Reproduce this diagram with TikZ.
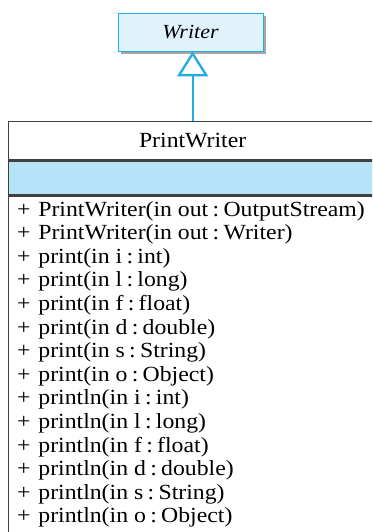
\documentclass[tikz,border=0pt]{standalone}
\usepackage{fontspec}
\setmainfont{Liberation Serif}[FakeStretch=1.10]
\usepackage{tikz}
\usetikzlibrary{arrows.meta,positioning,shadows}
\usepackage{xcolor}
\definecolor{umlcyan}{HTML}{1FAEE4}
\definecolor{umlpale}{HTML}{E0F3FB}
\definecolor{umlattr}{HTML}{B5E3F7}
\newcommand{\umlfont}{\fontsize{21.6}{23.6}\selectfont}
\newcommand{\ofT}{\hspace{0.2em}:\hspace{0.2em}}

\begin{document}
\begin{tikzpicture}[x=1pt, y=1pt,
  txt/.style={font=\umlfont, inner sep=0pt},
  cls/.style={draw=black!75, line width=1.3pt, minimum width=368pt, anchor=north west},
  abs/.style={draw=umlcyan, fill=umlpale, line width=0.9pt, minimum width=145pt, minimum height=38pt,
    drop shadow={shadow xshift=3pt, shadow yshift=-3pt, fill=black!35, opacity=1}}]
\useasboundingbox (0,0) rectangle (372,-532);
\clip (0,0) rectangle (372,-532);
% abstract parent class
\node[abs, inner sep=0pt, font=\fontsize{20}{22}\selectfont] (writer) at (190.5,-32) {\textit{Writer}};
% the subclass, cut off at the right and at the bottom
\node[cls, txt, minimum height=38pt] (pw) at (8,-121) {PrintWriter};
\node[cls, fill=umlattr, minimum height=34pt] (attrs) at (pw.south west) {};
\node[cls, minimum height=400pt] (ops) at (attrs.south west) {};
% generalization
\draw[umlcyan, line width=2.3pt, -{Triangle[open, length=25pt, width=31pt, fill=white]}]
  (pw.north) -- (pw.north |- writer.south);
% operations
\foreach \m [count=\i] in {PrintWriter(in out\ofT OutputStream), PrintWriter(in out\ofT Writer),
  print(in i\ofT int), print(in l\ofT long), print(in f\ofT float), print(in d\ofT double),
  print(in s\ofT String), print(in o\ofT Object), println(in i\ofT int), println(in l\ofT long),
  println(in f\ofT float), println(in d\ofT double), println(in s\ofT String), println(in o\ofT Object)}
  \node[txt, anchor=base west] (m\i) at (17,{-216-(\i-1)*23.6}) {+\hspace{0.36em}\m};
\end{tikzpicture}
\end{document}
